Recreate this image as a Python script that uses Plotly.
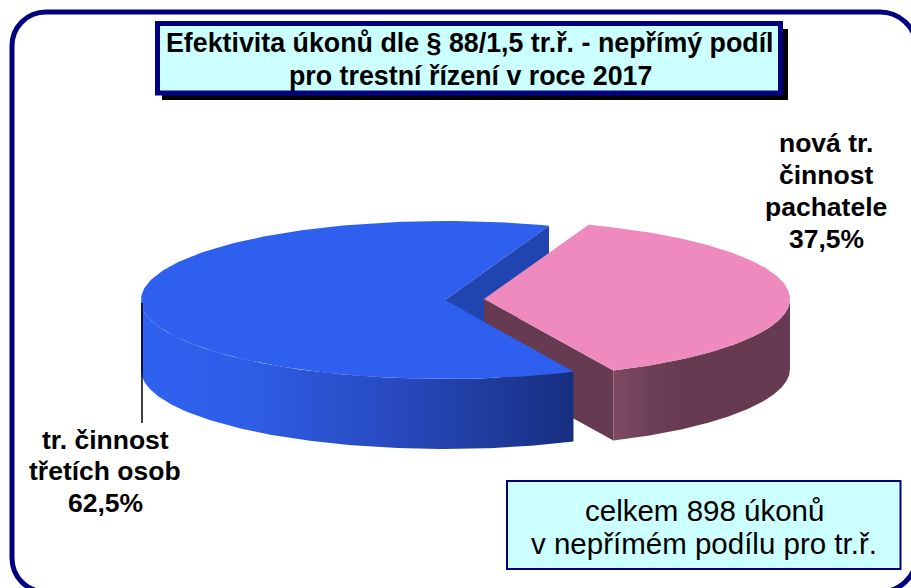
import numpy as np
import plotly.graph_objects as go

# --- data ---
categories = [["tr. činnost", "třetích osob"], ["nová tr.", "činnost", "pachatele"]]
shares = [62.5, 37.5]
title_lines = ["Efektivita úkonů dle § 88/1,5 tr.ř. - nepřímý podíl", "pro trestní řízení v roce 2017"]
note_lines = ["celkem 898 úkonů", "v nepřímém podílu pro tr.ř."]

# --- styling / projection of the tilted pie ---
W, H = 911, 588
RY = 79
DEPTH = 70
START = 70.0          # degrees, where the blue slice begins
CENTER_BLUE = (445, 300, 304)   # x, y, horizontal radius
CENTER_PINK = (484, 299, 306)
NAVY = "#000080"
BOX = "#CCFFFF"
FONT = "Liberation Sans, Arial, sans-serif"
BLUE_TOP, BLUE_WALL = "#2E5FEE", "#2045B0"
PINK_TOP, PINK_WALL = "#EE8ABD", "#663A50"
BLUE_SIDE = [[0, "#2F61F0"], [0.25, "#2E5DE6"], [0.6, "#2749BC"], [1, "#172F80"]]
PINK_SIDE = [[0, "#7E4A62"], [0.2, "#6E4058"], [0.4, "#663A50"], [1, "#663A50"]]


def rim(c, a0, a1, dy=0):
    t = np.radians(np.linspace(a0, a1, 160))
    return c[0] + c[2] * np.cos(t), c[1] - RY * np.sin(t) + dy


def top(c, a0, a1):
    x, y = rim(c, a0, a1)
    return np.r_[c[0], x, c[0]], np.r_[c[1], y, c[1]]


def side(c, a0, a1):
    x0, y0 = rim(c, a0, a1)
    x1, y1 = rim(c, a1, a0, DEPTH)
    return np.r_[x0, x1, x0[0]], np.r_[y0, y1, y0[0]]


def wall(c, a):
    x, y = rim(c, a, a)
    xe, ye = x[0], y[0]
    return [c[0], xe, xe, c[0], c[0]], [c[1], ye, ye + DEPTH, c[1] + DEPTH, c[1]]


def solid(xy, color):
    return go.Scatter(x=xy[0], y=xy[1], mode="lines", fill="toself", fillcolor=color,
                      line=dict(width=0), hoverinfo="skip", showlegend=False)


def shaded(xy, scale):
    return go.Scatter(x=xy[0], y=xy[1], mode="lines", fill="toself",
                      fillgradient=dict(type="horizontal", colorscale=scale),
                      line=dict(width=0), hoverinfo="skip", showlegend=False)


blue_end = START + shares[0] * 3.6
pink_end = blue_end + shares[1] * 3.6

fig = go.Figure()
fig.add_trace(solid(wall(CENTER_BLUE, START), BLUE_WALL))
fig.add_trace(solid(wall(CENTER_PINK, blue_end), PINK_WALL))
fig.add_trace(shaded(side(CENTER_PINK, blue_end, 360), PINK_SIDE))
fig.add_trace(solid(top(CENTER_PINK, blue_end, pink_end), PINK_TOP))
fig.add_trace(shaded(side(CENTER_BLUE, 180, blue_end), BLUE_SIDE))
fig.add_trace(solid(top(CENTER_BLUE, START, blue_end), BLUE_TOP))

shapes = [
    dict(type="path", line=dict(color=NAVY, width=5),
         path="M 12 46 C 12 27 27 12 46 12 L 880 12 C 899 12 916 27 916 46 "
              "L 916 558 C 916 577 899 592 880 592 L 46 592 C 27 592 12 577 12 558 Z"),
    dict(type="rect", x0=162, y0=29, x1=788, y1=100, fillcolor="#000000", line=dict(width=0)),
    dict(type="rect", x0=157.5, y0=23.5, x1=780.5, y1=93, fillcolor=BOX,
         line=dict(color=NAVY, width=5)),
    dict(type="rect", x0=507, y0=481, x1=900.5, y1=569, fillcolor=BOX,
         line=dict(color=NAVY, width=2)),
    dict(type="line", x0=142, y0=303, x1=142, y1=423, line=dict(color="#000000", width=1.5)),
]
for s in shapes:
    s.update(xref="x", yref="y")


def pct(v):
    return f"{v:.1f}%".replace(".", ",")


def note(x, y, text, size, bold=True):
    body = f"<b>{text}</b>" if bold else text
    return dict(x=x, y=y, xref="x", yref="y", text=body, showarrow=False, align="center",
                xanchor="center", yanchor="middle",
                font=dict(family=FONT, size=size, color="#000000"))


def block(x, ys, lines, size, bold=True):
    return [note(x, y, t, size, bold) for y, t in zip(ys, lines)]


annotations = (
    block(470, [43, 76], title_lines, 26.8)
    + block(826, [143, 175, 207, 239], categories[1] + [pct(shares[1])], 26.5)
    + block(105, [440, 471, 503], categories[0] + [pct(shares[0])], 26.5)
    + block(704, [510, 543], note_lines, 29.5, bold=False)
)

fig.update_layout(
    width=W, height=H, margin=dict(l=0, r=0, t=0, b=0),
    paper_bgcolor="#FFFFFF", plot_bgcolor="#FFFFFF", showlegend=False,
    shapes=shapes, annotations=annotations,
    xaxis=dict(range=[0, W], visible=False, fixedrange=True),
    yaxis=dict(range=[H, 0], visible=False, fixedrange=True),
)
fig.write_html("out.html", config={"displayModeBar": False},
               post_script="document.body.style.margin='0';document.body.style.overflow='hidden';")
